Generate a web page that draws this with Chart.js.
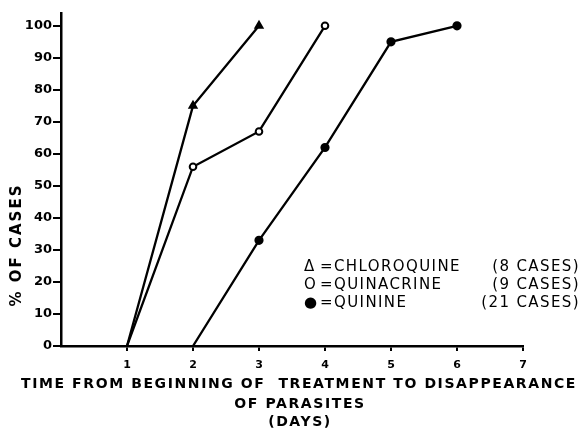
<!DOCTYPE html>
<html><head><meta charset="utf-8">
<script src="https://cdn.jsdelivr.net/npm/chart.js@4/dist/chart.umd.min.js"></script>
<style>html,body{margin:0;padding:0;background:#fff}#wrap{width:582px;height:431px}</style>
</head><body><div id="wrap"><canvas id="c" width="582" height="431"></canvas></div>
<script>
const days = [1, 2, 3, 4, 5, 6, 7];
const yTicks = [0, 10, 20, 30, 40, 50, 60, 70, 80, 90, 100];
const chloroquine = [{x:1,y:0},{x:2,y:75},{x:3,y:100}];
const quinacrine = [{x:1,y:0},{x:2,y:56},{x:3,y:67},{x:4,y:100}];
const quinine = [{x:2,y:0},{x:3,y:33},{x:4,y:62},{x:5,y:95},{x:6,y:100}];
const legendSymbols = ['\u0394', 'O', '\u25CF'];
const legendNames = ['CHLOROQUINE', 'QUINACRINE', 'QUININE'];
const legendCases = ['(8 CASES)', '(9 CASES)', '(21 CASES)'];
const xTitleLines = ['TIME FROM BEGINNING OF  TREATMENT TO DISAPPEARANCE', 'OF PARASITES', '(DAYS)'];
const yTitle = '% OF CASES';

const FONT = "'DejaVu Sans', sans-serif";

const overlay = {
  id: 'overlay',
  afterDraw(chart) {
    const ctx = chart.ctx;
    ctx.save();
    ctx.fillStyle = '#000';
    // y title
    ctx.font = "bold 15px " + FONT;
    ctx.letterSpacing = '2px';
    ctx.textAlign = 'center';
    ctx.textBaseline = 'middle';
    ctx.translate(17, 245);
    ctx.rotate(-Math.PI / 2);
    ctx.fillText(yTitle, 0, 0);
    ctx.restore();
    ctx.save();
    ctx.fillStyle = '#000';
    ctx.font = "bold 14px " + FONT;
    ctx.letterSpacing = '1.6px';
    ctx.textAlign = 'center';
    ctx.textBaseline = 'middle';
    const xc = [299, 300, 300];
    const yc = [384, 404, 422];
    xTitleLines.forEach((t, i) => ctx.fillText(t, xc[i], yc[i]));
    // legend
    ctx.font = "15px " + FONT;
    ctx.letterSpacing = '1.4px';
    const ly = [267, 285, 303];
    for (let i = 0; i < 3; i++) {
      ctx.textAlign = 'left';
      ctx.fillText(legendSymbols[i], 304, ly[i]);
      ctx.fillText('=', 320, ly[i]);
      ctx.fillText(legendNames[i], 334, ly[i]);
      ctx.textAlign = 'right';
      ctx.fillText(legendCases[i], 580, ly[i]);
    }
    ctx.restore();
  }
};

const ds = (label, data, style, fill, radius) => ({
  label, data, borderColor: '#000', borderWidth: 2.3,
  pointStyle: style, pointRadius: data.map((p, i) => i === 0 ? 0 : radius), pointBackgroundColor: fill,
  pointBorderColor: '#000', pointBorderWidth: 2, tension: 0, fill: false
});

new Chart(document.getElementById('c'), {
  type: 'line',
  data: { datasets: [
    ds('Chloroquine', chloroquine, 'triangle', '#000', 4),
    ds('Quinacrine', quinacrine, 'circle', '#fff', 3.3),
    ds('Quinine', quinine, 'circle', '#000', 3.6)
  ]},
  options: {
    responsive: false, animation: false, devicePixelRatio: 1,
    layout: { padding: { left: 0, right: 59, top: 13, bottom: 0 } },
    plugins: { legend: { display: false }, tooltip: { enabled: false } },
    scales: {
      x: {
        type: 'linear', min: 0, max: 7,
        afterBuildTicks: s => { s.ticks = days.map(v => ({ value: v })); },
        afterFit: s => { s.height = 85; },
        ticks: { color: '#000', font: { family: FONT, weight: 'bold', size: 11 }, padding: 8, maxRotation: 0 },
        grid: { display: true, drawOnChartArea: false, drawTicks: true, tickLength: 5, color: '#000', lineWidth: 2 },
        border: { display: true, color: '#000', width: 2.5 }
      },
      y: {
        type: 'linear', min: 0, max: 104,
        afterBuildTicks: s => { s.ticks = yTicks.map(v => ({ value: v })); },
        afterFit: s => { s.width = 61; },
        ticks: { color: '#000', font: { family: FONT, weight: 'bold', size: 13 }, padding: 1 },
        grid: { display: true, drawOnChartArea: false, drawTicks: true, tickLength: 8, color: '#000', lineWidth: 2 },
        border: { display: true, color: '#000', width: 2.5 }
      }
    }
  },
  plugins: [overlay]
});
</script></body></html>
